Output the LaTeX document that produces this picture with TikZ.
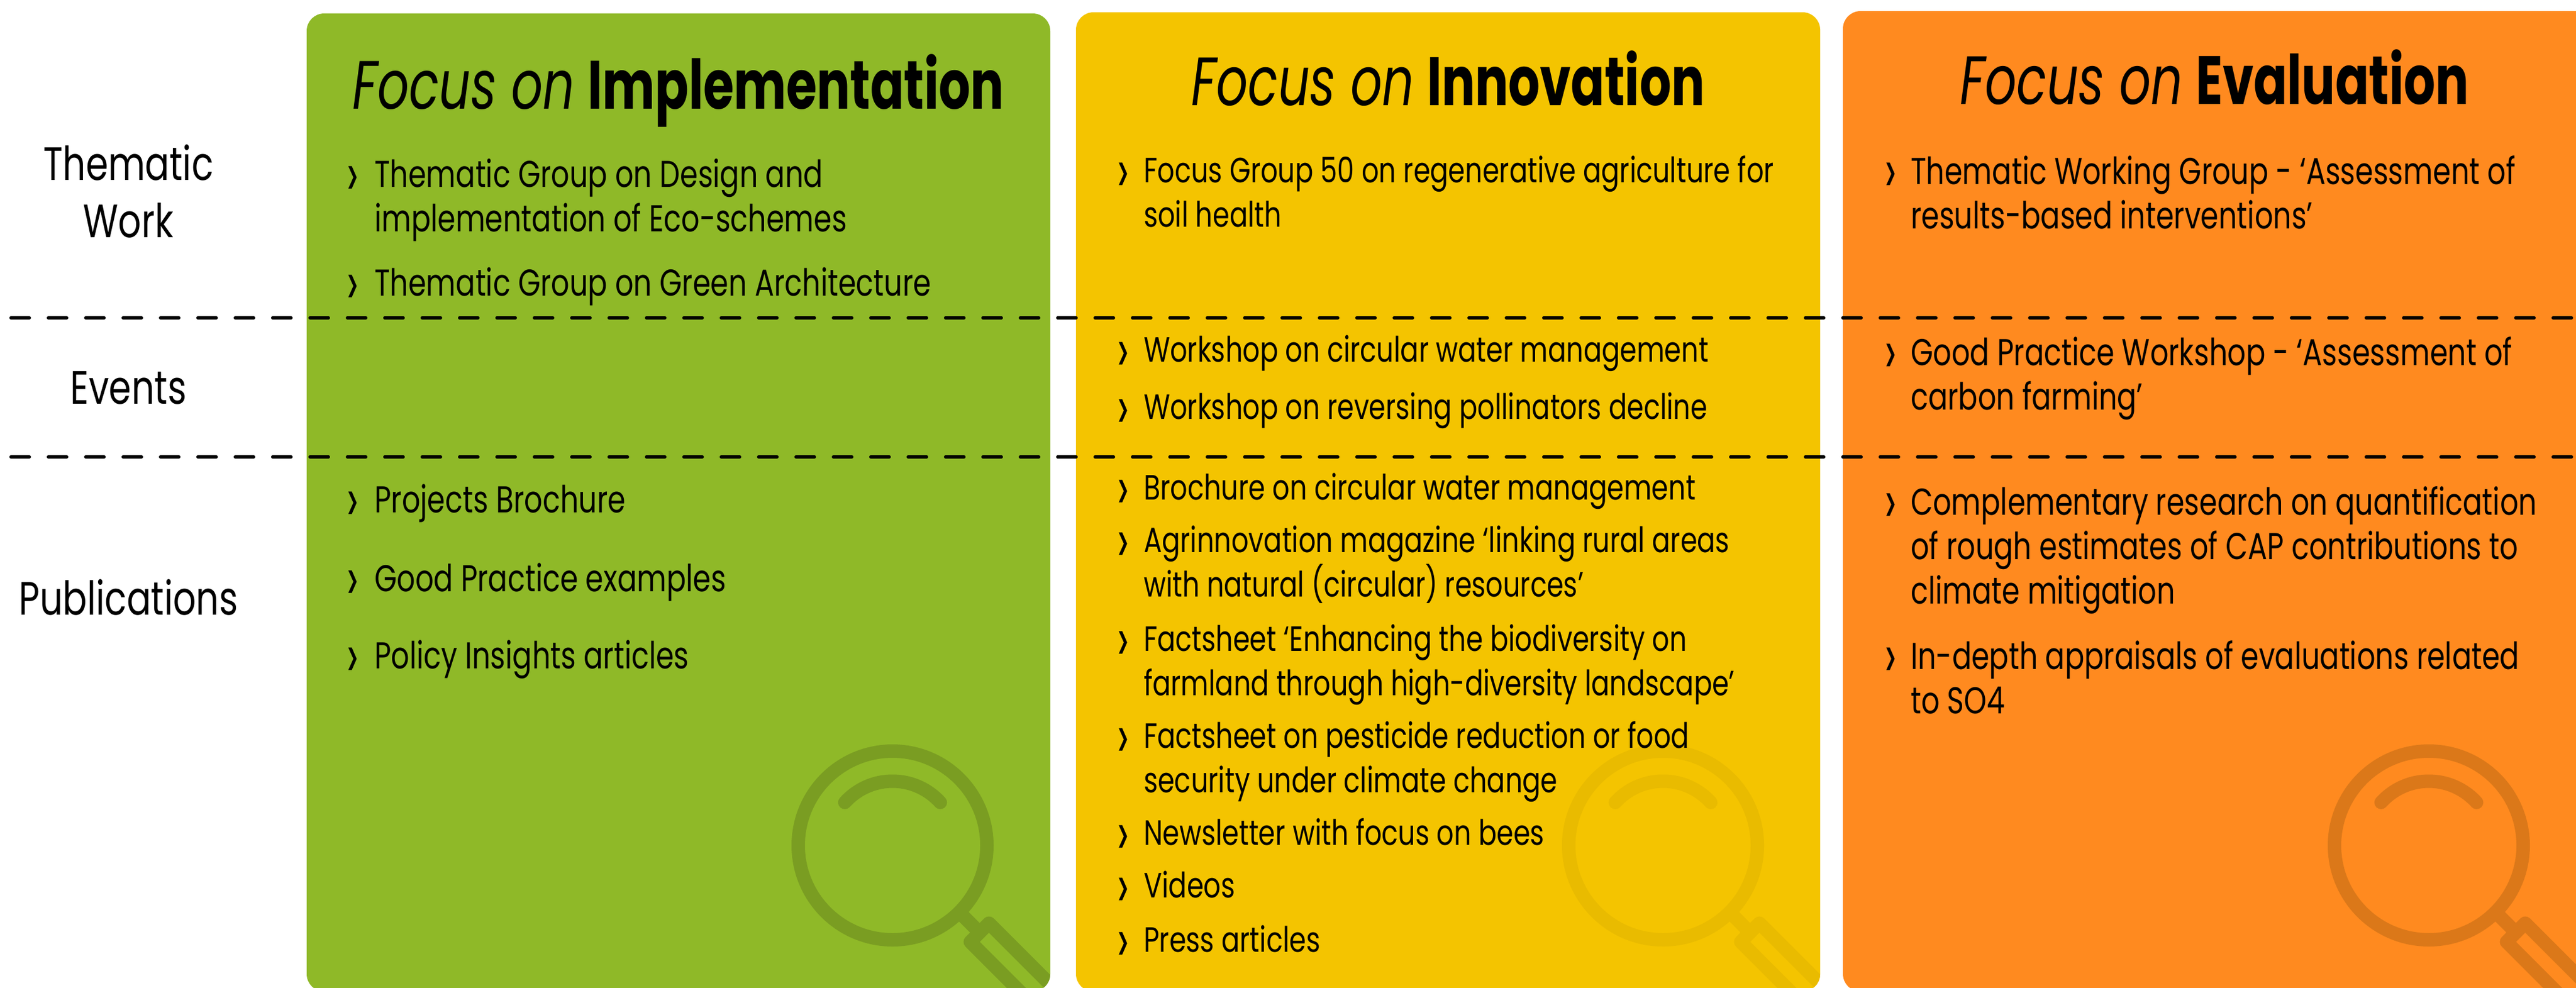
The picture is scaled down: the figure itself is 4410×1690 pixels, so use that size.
\documentclass[tikz,border=0pt]{standalone}
\usepackage{fontspec}
\setmainfont[FakeStretch=0.77]{Poppins}
\newfontfamily\titlefont[FakeStretch=0.725]{Poppins}
\newfontfamily\chevfont[FakeStretch=0.77]{Poppins Light}
\definecolor{cgreen}{HTML}{8FB928}
\definecolor{dgreen}{HTML}{7A9D22}
\definecolor{cyellow}{HTML}{F4C400}
\definecolor{dyellow}{HTML}{E9BB00}
\definecolor{corange}{HTML}{FF8A1F}
\definecolor{dorange}{HTML}{DB7819}
\tikzset{
  itemtext/.style={anchor=north west,inner sep=0pt,align=left,font=\fontsize{64}{76}\selectfont,text=black},
  itemsmall/.style={itemtext,font=\fontsize{60}{76}\selectfont},
  chevron/.style={anchor=north west,inner sep=0pt,font=\chevfont\fontsize{110}{110}\selectfont,text=black},
  titletext/.style={anchor=base,inner sep=0pt,font=\titlefont\fontsize{117}{130}\selectfont,text=black},
  rowlabel/.style={anchor=center,inner sep=0pt,align=center,font=\fontsize{80}{98}\selectfont,text=black},
  rowline/.style={draw=black,line width=6pt,line cap=round,dash pattern=on 31pt off 33pt,dash phase=45pt},
  lens/.style={line width=23pt,line cap=round,line join=round}
}
% \cardshape{x0}{top}{x1}{fill}{dark}{lens cx}
\newcommand{\cardshape}[6]{%
  \fill[#4,rounded corners=30pt] (#1,-#2) rectangle (#3,-1697);
  \begin{scope}
    \clip[rounded corners=30pt] (#1,-#2) rectangle (#3,-1697);
    \begin{scope}[shift={(#6,-1447)},draw=#5]
      \draw[lens] (0,0) circle (161.5pt);
      \draw[lens] (138:110pt) arc (138:42:110pt);
      \draw[lens] (122,-122) -- (149,-149);
      \draw[lens] (465,-433) -- (165,-133) -- (133,-165) -- (433,-465);
    \end{scope}
  \end{scope}}
% \itm[text style]{name}{xchevron}{xtext}{baseline}{text}
\newcommand{\itm}[6][itemtext]{%
  \node[chevron] (#2c) at (#3,-#5+33) {\rule{0pt}{46pt}\makebox[40pt][l]{›}};%
  \node[#1] (#2) at (#4,-#5+46) {\rule{0pt}{46pt}#6};}
\begin{document}
\begin{tikzpicture}[x=1pt,y=1pt]
\useasboundingbox (0,-1690) rectangle (4410,0);
\clip (0,-1690) rectangle (4410,0);
\cardshape{525}{23}{1798}{cgreen}{dgreen}{1528}
\cardshape{1842}{21}{3116}{cyellow}{dyellow}{2847}
\cardshape{3155}{19}{4500}{corange}{dorange}{4158}
\coordinate (la) at (0,-544);
\coordinate (lb) at (4410,-544);
\coordinate (lc) at (0,-782);
\coordinate (ld) at (4410,-782);
\draw[rowline] (la) -- (lb);
\draw[rowline] (lc) -- (ld);
\node[rowlabel] (work) at (220,-327) {Thematic\\Work};
\node[rowlabel] (events) at (220,-664) {Events};
\node[rowlabel] (pubs) at (220,-1022) {Publications};
\node[titletext] (t1) at (1161,-186) {\textit{Focus on} \textbf{Implementation}};
\node[titletext] (t2) at (2479,-180) {\textit{Focus on} \textbf{Innovation}};
\node[titletext] (t3) at (3791,-178) {\textit{Focus on} \textbf{Evaluation}};
\newcommand{\ga}{592}\newcommand{\gb}{641}
\itm{g1}{\ga}{\gb}{318}{Thematic Group on Design and\\implementation of Eco-schemes}
\itm{g2}{\ga}{\gb}{504}{Thematic Group on Green Architecture}
\itm{g3}{\ga}{\gb}{875}{Projects Brochure}
\itm{g4}{\ga}{\gb}{1010}{Good Practice examples}
\itm{g5}{\ga}{\gb}{1142}{Policy Insights articles}
\newcommand{\ya}{1911}\newcommand{\yb}{1958}
\itm[itemsmall]{y1}{\ya}{\yb}{312}{Focus Group 50 on regenerative agriculture for\\soil health}
\itm[itemsmall]{y2}{\ya}{\yb}{619}{Workshop on circular water management}
\itm[itemsmall]{y3}{\ya}{\yb}{717}{Workshop on reversing pollinators decline}
\itm[itemsmall]{y4}{\ya}{\yb}{855}{Brochure on circular water management}
\itm[itemsmall]{y5}{\ya}{\yb}{945}{Agrinnovation magazine ‘linking rural areas\\with natural (circular) resources’}
\itm[itemsmall]{y6}{\ya}{\yb}{1114}{Factsheet ‘Enhancing the biodiversity on\\farmland through high-diversity landscape’}
\itm[itemsmall]{y7}{\ya}{\yb}{1280}{Factsheet on pesticide reduction or food\\security under climate change}
\itm[itemsmall]{y8}{\ya}{\yb}{1446}{Newsletter with focus on bees}
\itm[itemsmall]{y9}{\ya}{\yb}{1536}{Videos}
\itm[itemsmall]{y10}{\ya}{\yb}{1629}{Press articles}
\newcommand{\oa}{3225}\newcommand{\ob}{3271}
\itm{o1}{\oa}{\ob}{312}{Thematic Working Group - ‘Assessment of\\results-based interventions’}
\itm{o2}{\oa}{\ob}{622}{Good Practice Workshop - ‘Assessment of\\carbon farming’}
\itm{o3}{\oa}{\ob}{878}{Complementary research on quantification\\of rough estimates of CAP contributions to\\climate mitigation}
\itm{o4}{\oa}{\ob}{1142}{In-depth appraisals of evaluations related\\to SO4}
\end{tikzpicture}
\end{document}
